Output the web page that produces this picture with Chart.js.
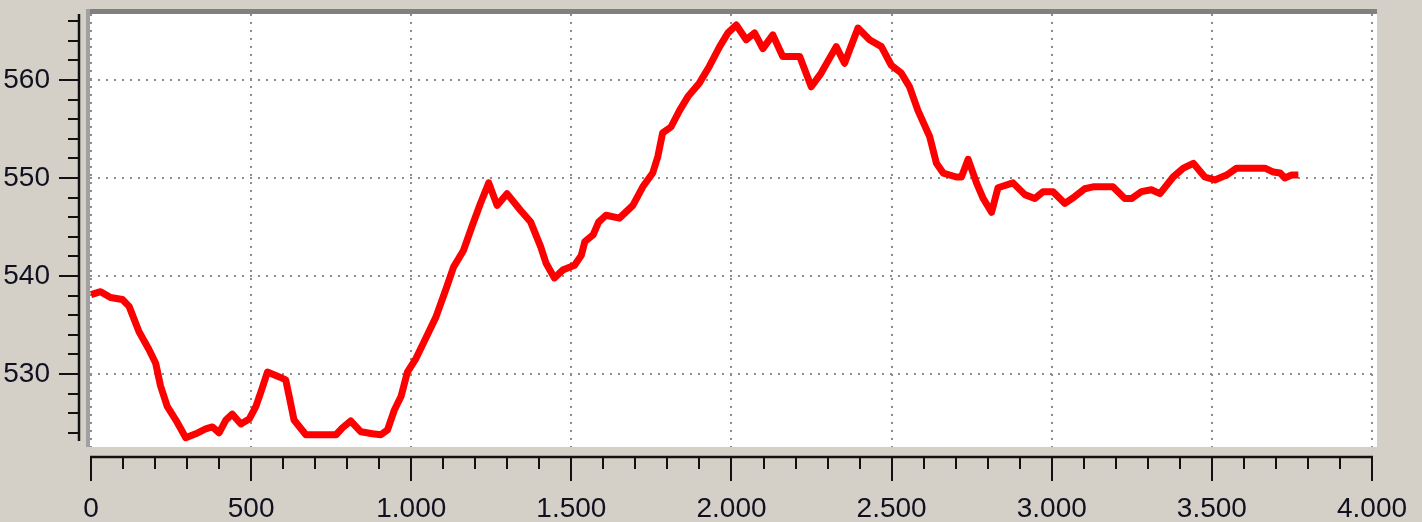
<!DOCTYPE html>
<html><head><meta charset="utf-8">
<script src="https://cdn.jsdelivr.net/npm/chart.js@4.4.0/dist/chart.umd.min.js"></script>
<style>html,body{margin:0;padding:0;background:#d4d0c8;overflow:hidden}#wrap{width:1422px;height:522px}</style>
</head><body><div id="wrap"><canvas id="c" width="1422" height="522"></canvas></div>
<script>
const xValues = [0,30,61,98,119,150,181,202,217,238,265,296,327,358,379,400,421,441,468,494,515,533,551,588,608,619,634,671,713,765,785,811,843,879,905,926,947,968,988,1015,1046,1077,1111,1132,1163,1189,1216,1242,1268,1299,1341,1373,1404,1421,1447,1473,1510,1531,1542,1568,1585,1608,1650,1692,1723,1754,1770,1785,1811,1838,1864,1900,1931,1963,1989,2015,2046,2072,2098,2129,2160,2213,2249,2280,2327,2353,2395,2431,2468,2499,2530,2556,2582,2619,2640,2661,2702,2718,2739,2765,2786,2812,2832,2879,2916,2947,2973,3004,3041,3072,3103,3129,3191,3228,3249,3280,3311,3338,3379,3411,3442,3478,3509,3546,3577,3619,3666,3692,3713,3728,3749,3770];
const yValues = [538.1,538.4,537.8,537.6,536.9,534.3,532.5,531.1,528.8,526.7,525.3,523.5,523.9,524.4,524.6,524.0,525.3,525.9,524.9,525.4,526.7,528.4,530.2,529.7,529.4,527.7,525.3,523.8,523.8,523.8,524.5,525.2,524.1,523.9,523.8,524.3,526.3,527.7,530.2,531.6,533.7,535.8,538.9,540.9,542.6,545.0,547.4,549.5,547.2,548.4,546.7,545.5,543.0,541.3,539.8,540.6,541.1,542.1,543.5,544.2,545.5,546.2,545.9,547.2,549.1,550.5,552.2,554.6,555.2,556.9,558.3,559.7,561.4,563.4,564.8,565.6,564.1,564.8,563.2,564.6,562.4,562.4,559.3,560.7,563.4,561.7,565.3,564.1,563.4,561.5,560.7,559.3,556.9,554.2,551.5,550.5,550.1,550.1,551.9,549.5,547.9,546.5,549.0,549.5,548.3,547.9,548.6,548.6,547.4,548.1,548.9,549.1,549.1,547.9,547.9,548.6,548.8,548.4,550.1,551.0,551.5,550.1,549.8,550.3,551.0,551.0,551.0,550.6,550.5,550.0,550.3,550.3];
const xTickValues = [0,500,1000,1500,2000,2500,3000,3500,4000];
const yTickValues = [530,540,550,560];
const xMinorStep = 100;
const yMinorStep = 2;

const points = xValues.map((x, i) => ({x: x, y: yValues[i]}));
const fmt = v => (v >= 1000 ? Math.floor(v/1000) + '.' + String(v % 1000).padStart(3,'0') : String(v));

const frame = {
  id: 'frame',
  beforeDraw(chart) {
    const ctx = chart.ctx, a = chart.chartArea;
    const xs = chart.scales.x, ys = chart.scales.y;
    ctx.save();
    ctx.fillStyle = '#ffffff';
    ctx.fillRect(a.left, a.top, a.right - a.left, a.bottom - a.top);
    ctx.fillStyle = '#808080';
    ctx.fillRect(a.left - 4, a.top - 5, a.right - a.left + 4, 5);
    ctx.fillStyle = '#a0a0a0';
    ctx.fillRect(a.left - 4, a.top - 5, 4, a.bottom - a.top + 5);
    // dotted grid
    ctx.strokeStyle = '#8c8c8c'; ctx.lineWidth = 2; ctx.setLineDash([2, 6]);
    xTickValues.forEach(v => {
      const px = Math.round(xs.getPixelForValue(v));
      ctx.beginPath(); ctx.moveTo(px, a.top); ctx.lineTo(px, a.bottom); ctx.stroke();
    });
    yTickValues.forEach(v => {
      const py = Math.round(ys.getPixelForValue(v));
      ctx.beginPath(); ctx.moveTo(a.left, py); ctx.lineTo(a.right, py); ctx.stroke();
    });
    ctx.setLineDash([]);
    // axes
    ctx.strokeStyle = '#111'; ctx.lineWidth = 2.5;
    const ax = a.left - 11;
    ctx.beginPath(); ctx.moveTo(ax, a.top); ctx.lineTo(ax, a.bottom - 6); ctx.stroke();
    ctx.lineWidth = 2;
    for (let v = 524; v <= 566; v += yMinorStep) {
      const py = Math.round(ys.getPixelForValue(v));
      const major = yTickValues.includes(v);
      ctx.beginPath(); ctx.moveTo(ax, py); ctx.lineTo(ax - (major ? 20 : 11), py); ctx.stroke();
    }
    const ay = a.bottom + 10;
    const x0 = xs.getPixelForValue(0), x1 = xs.getPixelForValue(4000);
    ctx.lineWidth = 2.5;
    ctx.beginPath(); ctx.moveTo(x0 - 1, ay); ctx.lineTo(x1 + 1, ay); ctx.stroke();
    ctx.lineWidth = 2;
    for (let v = 0; v <= 4000; v += xMinorStep) {
      const px = Math.round(xs.getPixelForValue(v));
      const major = xTickValues.includes(v);
      ctx.beginPath(); ctx.moveTo(px, ay); ctx.lineTo(px, ay + (major ? 24 : 12)); ctx.stroke();
    }
    ctx.restore();
  }
};

const labelFont = {family: '"Liberation Sans Narrow", "Liberation Sans", Arial, sans-serif', size: 28};

new Chart(document.getElementById('c'), {
  type: 'line',
  data: {datasets: [{data: points, borderColor: '#ff0000', borderWidth: 7, pointRadius: 0, tension: 0, fill: false, borderJoinStyle: 'round', borderCapStyle: 'butt'}]},
  options: {
    responsive: false, animation: false,
    plugins: {legend: {display: false}, tooltip: {enabled: false}},
    layout: {padding: {top: 14, right: 45, left: 0, bottom: 0}},
    scales: {
      x: {
        type: 'linear', min: -3.1, max: 4015.6,
        afterBuildTicks: s => { s.ticks = xTickValues.map(v => ({value: v})); },
        afterFit: s => { s.height = 75; s.paddingLeft = 0; s.paddingRight = 0; },
        grid: {display: false, drawTicks: false}, border: {display: false},
        ticks: {callback: v => fmt(v), font: labelFont, color: '#101020', padding: 45, maxRotation: 0, autoSkip: false}
      },
      y: {
        type: 'linear', min: 522.55, max: 566.73,
        afterBuildTicks: s => { s.ticks = yTickValues.map(v => ({value: v})); },
        afterFit: s => { s.width = 90; s.paddingTop = 0; s.paddingBottom = 0; },
        grid: {display: false, drawTicks: false}, border: {display: false},
        ticks: {callback: v => String(v), font: labelFont, color: '#101020', padding: 40}
      }
    }
  },
  plugins: [frame]
});
</script>
</body></html>
